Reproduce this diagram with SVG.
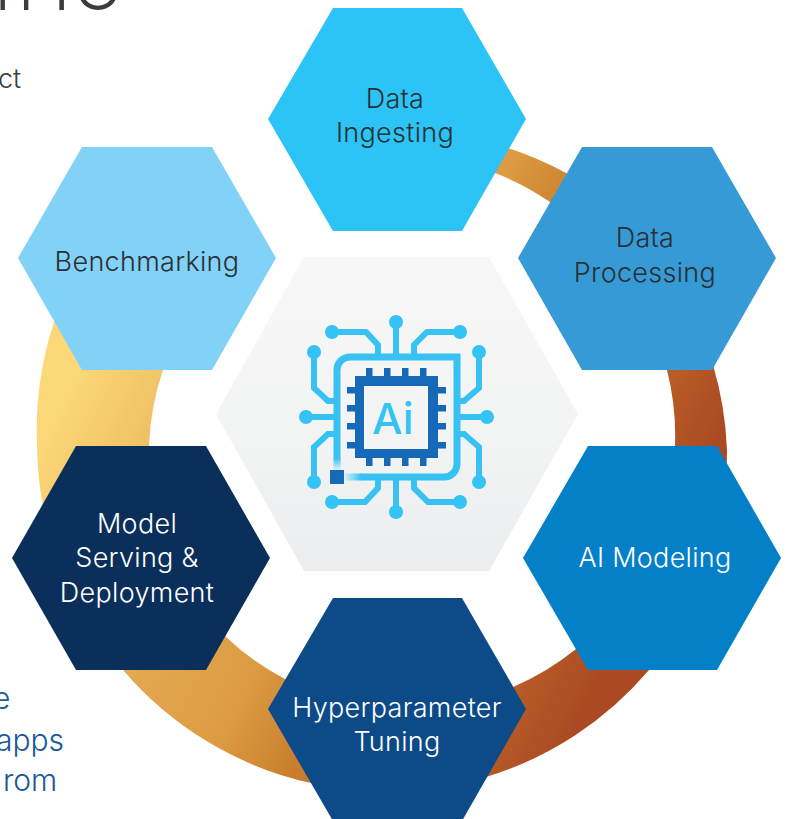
<svg xmlns="http://www.w3.org/2000/svg" width="786" height="819" viewBox="0 0 786 819">
<defs>
<linearGradient id="ring" gradientUnits="userSpaceOnUse" x1="40" y1="360" x2="632" y2="656"><stop offset="0.054" stop-color="#fbd878"/><stop offset="0.35" stop-color="#e2a850"/><stop offset="0.5" stop-color="#dc9b42"/><stop offset="0.615" stop-color="#c97f2e"/><stop offset="0.865" stop-color="#b85c28"/><stop offset="0.97" stop-color="#ab4a22"/></linearGradient>
<linearGradient id="hub" x1="0" y1="0" x2="0" y2="1"><stop offset="0" stop-color="#f7f7f7"/><stop offset="0.6" stop-color="#f2f3f3"/><stop offset="1" stop-color="#ebedef"/></linearGradient>
<linearGradient id="fadeV" x1="0" y1="0" x2="0" y2="1"><stop offset="0" stop-color="#38c2f3"/><stop offset="1" stop-color="#e8f6fc"/></linearGradient>
<linearGradient id="fadeH" x1="0" y1="0" x2="1" y2="0"><stop offset="0" stop-color="#e8f6fc"/><stop offset="1" stop-color="#38c2f3"/></linearGradient>
</defs>
<style>
text{font-family:"Inter","Noto Sans","Liberation Sans",sans-serif}
.l{font-size:27px;font-weight:350;fill:#2b2f33;text-anchor:middle;letter-spacing:.3px}
.s{font-size:30px;font-weight:300;fill:#1a5a96}
.c{fill:none;stroke:#38c2f3;stroke-width:6}
.f{stroke-width:7}
.d{fill:#33c3f5}
.p{fill:#1569b7}
</style>
<rect width="786" height="819" fill="#fff"/>
<g id="connectors">
<path fill="url(#ring)" d="M90 260A345 345 0 0 0 54 322A345 345 0 0 0 37 443A345 345 0 0 0 123 670A345 345 0 0 0 311 783L486 777A345 345 0 0 0 649 670A345 345 0 0 0 727 450A345 345 0 0 0 713 365A345 345 0 0 0 566 173A345 345 0 0 0 508 148L480 140L470 165L495 173A265 265 0 0 1 550 202A265 265 0 0 1 667 370A265 265 0 0 1 675 445A265 265 0 0 1 576 649A265 265 0 0 1 513 687L285 679A265 265 0 0 1 226 637A265 265 0 0 1 149 446A265 265 0 0 1 163 370L190 300Z"/>
</g>
<text x="-5 53 73" y="10" font-size="66" font-weight="300" fill="#3a3d40">nIO</text>
<text x="-2" y="88" font-size="27" font-weight="300" fill="#3a3d40">ct</text>
<text class="s" x="-7" y="709">e</text>
<text class="s" x="-4" y="751">apps</text>
<text class="s" x="3" y="791">rom</text>
<g id="hub"><polygon points="216,414 304,257 489,257 578,414 489,571 304,571" fill="url(#hub)"/>
<path class="c f" d="M337 460V370A13 13 0 0 1 350 357H457V464A13 13 0 0 1 444 477H360"/>
<rect x="333.500" y="458" width="7" height="13" fill="url(#fadeV)"/><rect x="343" y="473.500" width="18" height="7" fill="url(#fadeH)"/>
<rect x="330" y="470" width="14" height="14" class="p"/>
<path class="c" d="M396 322V357M332 332H366L378 345V357M460 332H427L414 345V357M314 352V388L328 401H337M306 417H337M314 482V447L328 434H337M479 352V388L464 401H457M487 417H457M479 482V447L464 434H457M396 512V477M332 502H365L378 488V477M460 502H428L414 488V477"/>
<g class="d"><circle cx="396" cy="322" r="7"/><circle cx="332" cy="332" r="7"/><circle cx="460" cy="332" r="7"/><circle cx="314" cy="352" r="7"/><circle cx="306" cy="417" r="7"/><circle cx="314" cy="482" r="7"/><circle cx="479" cy="352" r="7"/><circle cx="487" cy="417" r="7"/><circle cx="479" cy="482" r="7"/><circle cx="396" cy="512" r="7"/><circle cx="332" cy="502" r="7"/><circle cx="460" cy="502" r="7"/></g>
<path class="p" fill-rule="evenodd" d="M355 376H438V458H355ZM364 386V449H428V386Z"/>
<path class="p" d="M366 368h6.500v8h-6.500zM384 368h6.500v8h-6.500zM402 368h6.500v8h-6.500zM420 368h6.500v8h-6.500zM366 458h6.500v8h-6.500zM384 458h6.500v8h-6.500zM402 458h6.500v8h-6.500zM420 458h6.500v8h-6.500zM347 387h8v6.500h-8zM347 405h8v6.500h-8zM347 423h8v6.500h-8zM347 442h8v6.500h-8zM438 387h8v6.500h-8zM438 405h8v6.500h-8zM438 423h8v6.500h-8zM438 442h8v6.500h-8z"/>
<text x="372" y="434" font-size="43" font-weight="500" fill="#35c3f4">Ai</text>
</g>
<g id="n1"><polygon points="268,119 333,8 462,8 526,119 462,231 333,231" fill="#2cc4f6"/><text class="l" x="395" y="108">Data</text><text class="l" x="395" y="142">Ingesting</text></g>
<g id="n2"><polygon points="518,258 582,147 712,147 776,258 712,370 582,370" fill="#369ad7"/><text class="l" x="645" y="247">Data</text><text class="l" x="645" y="282">Processing</text></g>
<g id="n3"><polygon points="523,558 588,446 717,446 781,558 717,670 588,670" fill="#0480c9"/><text class="l" style="fill:#fff" x="655" y="567">AI Modeling</text></g>
<g id="n4"><polygon points="268,709 333,598 462,598 526,709 462,821 333,821" fill="#0c4b88"/><text class="l" style="fill:#fff" x="397" y="717">Hyperparameter</text><text class="l" style="fill:#fff" x="397" y="751">Tuning</text></g>
<g id="n5"><polygon points="12,558 76,446 206,446 270,558 206,670 76,670" fill="#0a2f5a"/><text class="l" style="fill:#fff" x="137" y="533">Model</text><text class="l" style="fill:#fff" x="137" y="567">Serving &amp;</text><text class="l" style="fill:#fff" x="137" y="602">Deployment</text></g>
<g id="n6"><polygon points="18,258 82,147 212,147 276,258 212,370 82,370" fill="#82d2f8"/><text class="l" x="147" y="271">Benchmarking</text></g>
</svg>
